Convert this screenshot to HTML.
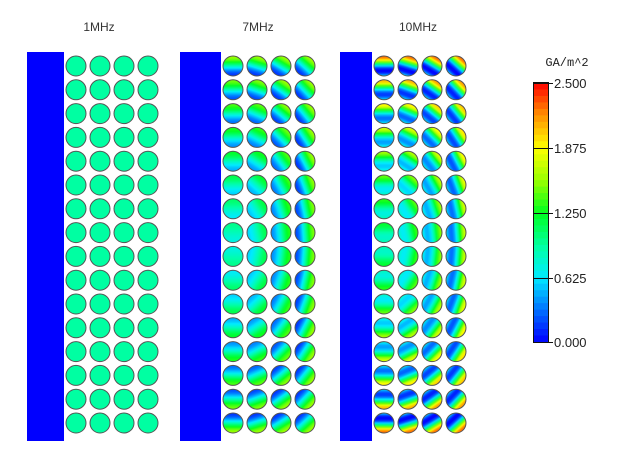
<!DOCTYPE html>
<html><head><meta charset="utf-8">
<style>
html,body{margin:0;padding:0;background:#fff;}
svg{display:block;}
text{font-family:"Liberation Sans",sans-serif;}
</style></head>
<body>
<svg id="s" width="624" height="465" xmlns="http://www.w3.org/2000/svg">
<rect width="624" height="465" fill="#fff"/>
<defs id="d"></defs>
<text x="99" y="31" font-size="12" fill="#333" text-anchor="middle">1MHz</text>
<text x="258" y="31" font-size="12" fill="#333" text-anchor="middle">7MHz</text>
<text x="418" y="31" font-size="12" fill="#333" text-anchor="middle">10MHz</text>
<rect x="27" y="52" width="37" height="389" fill="#0000ff"/>
<rect x="180" y="52" width="41" height="389" fill="#0000ff"/>
<rect x="340" y="52" width="32" height="389" fill="#0000ff"/>
<g id="c"></g>
<g id="cb"></g>
<text x="567" y="66" font-size="12" fill="#222" text-anchor="middle" style="font-family:'Liberation Mono',monospace">GA/m^2</text>
<g font-size="13" fill="#222" style="font-family:'Liberation Mono',monospace">
<text x="554" y="88">2.500</text>
<text x="554" y="153">1.875</text>
<text x="554" y="218">1.250</text>
<text x="554" y="283">0.625</text>
<text x="554" y="347">0.000</text>
</g>
</svg>
<script>
var stops=[[0,[0,0,255]],[0.3,[0,110,255]],[0.625,[0,235,255]],[0.9,[0,255,170]],[1.25,[0,255,30]],[1.55,[150,255,0]],[1.875,[255,255,0]],[2.2,[255,140,0]],[2.5,[255,0,0]]];
function cm(v){v=Math.max(0,Math.min(2.5,v));for(var i=1;i<stops.length;i++){if(v<=stops[i][0]){var a=stops[i-1],b=stops[i],f=(v-a[0])/(b[0]-a[0]);return 'rgb('+[0,1,2].map(function(k){return Math.round(a[1][k]+(b[1][k]-a[1][k])*f)}).join(',')+')';}}return 'rgb(255,0,0)';}
var NS="http://www.w3.org/2000/svg",d=document.getElementById('d'),g=document.getElementById('c'),cb=document.getElementById('cb');
function el(n,a,p){var e=document.createElementNS(NS,n);for(var k in a)e.setAttribute(k,a[k]);p.appendChild(e);return e;}
var panels=[{x:[76,100,124,148],amp:0,mean:0.92,k:1},{x:[233,257,281,305],amp:0.72,mean:0.85,k:1},{x:[384,408,432,456],amp:1.1,mean:1.0,k:1.35}];
var id=0;
panels.forEach(function(P,pi){
 for(var r=0;r<16;r++){var cy=66+r*23.8;
  for(var c=0;c<4;c++){var cx=P.x[c],fill;
   if(P.amp==0){fill=cm(P.mean);}else{
    var u=(r-7.5)/7.5,cf=c/3,hx=cf*0.9,hy=u,M=Math.min(1,Math.sqrt(hx*hx+hy*hy));
    var n=Math.sqrt(hx*hx+hy*hy)||1;hx/=n;hy/=n;
    var A=P.amp*(0.12+0.88*M);
    var mean=P.mean;
    if(pi==2){A=P.amp*(0.15+0.55*M+0.35*Math.abs(u)*Math.abs(u));mean=P.mean+0.15*Math.abs(u);}
    var lg=el('linearGradient',{id:'g'+id,x1:0.5+hx/2,y1:0.5+hy/2,x2:0.5-hx/2,y2:0.5-hy/2},d);
    for(var t=0;t<=10;t++){var tt=t/10;el('stop',{offset:tt,'stop-color':cm(mean+A*Math.cos(P.k*Math.PI*tt))},lg);}
    fill='url(#g'+id+')';id++;}
   el('circle',{cx:cx,cy:cy,r:10,fill:fill,stroke:'#555','stroke-width':1},g);
  }}
});
var y0=83,y1=342,N=40,h=(y1-y0)/N;
for(var i=0;i<N;i++){el('rect',{x:534,y:y0+i*h,width:14,height:h+0.5,fill:cm(2.5*(N-i-0.5)/N)},cb);}
el('rect',{x:533.5,y:82.5,width:15,height:260,fill:'none',stroke:'#111','stroke-width':1},cb);
[83,148,213,278,342].forEach(function(y){el('line',{x1:534,y1:y+0.5,x2:553,y2:y+0.5,stroke:'#111','stroke-width':1},cb);});
</script>
</body></html>
